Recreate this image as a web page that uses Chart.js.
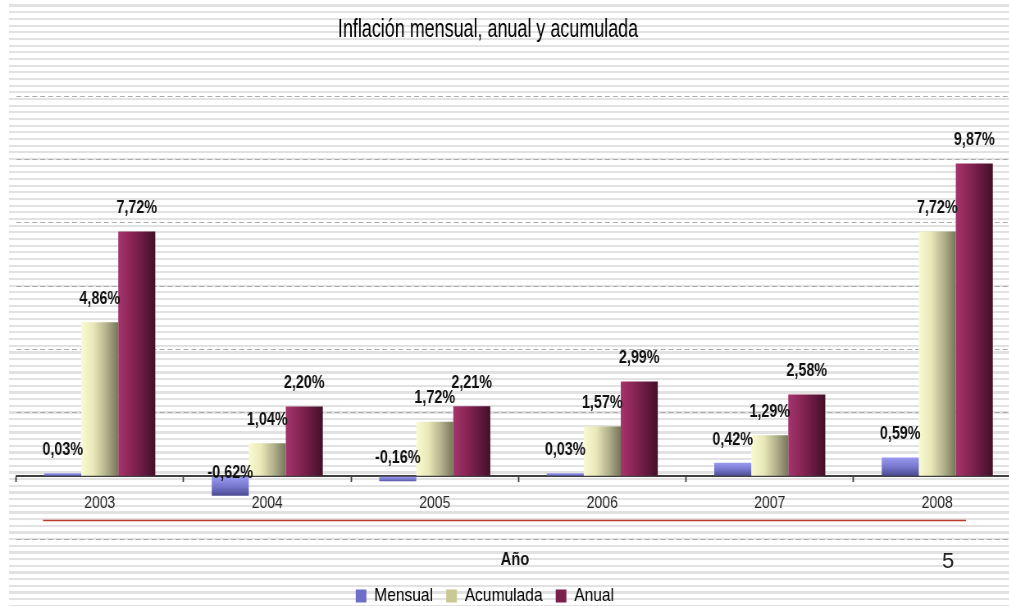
<!DOCTYPE html>
<html>
<head>
<meta charset="utf-8">
<title>Inflación mensual, anual y acumulada</title>
<script src="https://cdn.jsdelivr.net/npm/chart.js@4.4.1/dist/chart.umd.min.js"></script>
<style>
  html, body { margin: 0; padding: 0; width: 1009px; height: 606px; overflow: hidden; background: #fff; }
  /* striped slide background */
  #slide {
    position: absolute; left: 9px; top: 0; width: 1000px; height: 606px;
    background: repeating-linear-gradient(to bottom, #fff 0, #fff 4.5px, #e2e2e2 4.5px, #e2e2e2 6.67px);
  }
  /* the slide squeezes the chart sideways, which gives the narrow lettering */
  #chartBox { position: absolute; left: 0; top: 0; width: 1260px; height: 606px;
    transform: scaleX(0.82); transform-origin: 0 0; }
</style>
</head>
<body>
<div id="slide"></div>
<div id="chartBox"><canvas id="inflationChart" width="1260" height="606"></canvas></div>
<script>
const years = ['2003', '2004', '2005', '2006', '2007', '2008'];
const mensual = [0.03, -0.62, -0.16, 0.03, 0.42, 0.59];
const acumulada = [4.86, 1.04, 1.72, 1.57, 1.29, 7.72];
const anual = [7.72, 2.20, 2.21, 2.99, 2.58, 9.87];
const seriesNames = ['Mensual', 'Acumulada', 'Anual'];

const yMin = -2, yMax = 12, yStep = 2;

const squeeze = 0.82;   // same as the CSS scaleX
const sans = '"Liberation Sans", Arial, sans-serif';
const legendColors = ['#6e6ec8', '#c9c995', '#7a1f4c'];
const legendOffsetX = -41;
const legendOffsetY = 31;

function pct(v) {
    return v.toFixed(2).replace('.', ',') + '%';
}

// gradient across each bar, taken from the bar element itself
function shade(stops, vertical) {
    return function (c) {
        const bar = c.element;
        if (!bar || !isFinite(bar.x) || !isFinite(bar.width) || !isFinite(bar.base)) {
            return stops[1];
        }
        const ctx = c.chart.ctx;
        const g = vertical
            ? ctx.createLinearGradient(0, Math.min(bar.y, bar.base), 0, Math.max(bar.y, bar.base) + 1)
            : ctx.createLinearGradient(bar.x - bar.width / 2, 0, bar.x + bar.width / 2, 0);
        stops.forEach(function (col, i) {
            g.addColorStop(i / (stops.length - 1), col);
        });
        return g;
    };
}

// value labels above every bar
const valueLabels = {
    id: 'valueLabels',
    afterDatasetsDraw(chart) {
        const ctx = chart.ctx;
        ctx.save();
        ctx.font = 'bold 17.5px ' + sans;
        ctx.fillStyle = '#111';
        ctx.textAlign = 'center';
        ctx.textBaseline = 'middle';
        chart.data.datasets.forEach(function (ds, i) {
            chart.getDatasetMeta(i).data.forEach(function (bar, j) {
                ctx.fillText(pct(ds.data[j]), bar.x, bar.y - 23);
            });
        });
        ctx.restore();
    }
};

// title, red rule, axis caption and page number
const slideText = {
    id: 'slideText',
    afterDraw(chart) {
        const ctx = chart.ctx;
        ctx.save();

        ctx.fillStyle = '#000';
        ctx.textAlign = 'center';
        ctx.textBaseline = 'alphabetic';
        ctx.translate(488 / squeeze, 36.7);
        ctx.scale(0.855, 1);
        ctx.font = '25.6px ' + sans;
        ctx.fillText('Inflación mensual, anual y acumulada', 0, 0);
        ctx.setTransform(1, 0, 0, 1, 0, 0);

        ctx.strokeStyle = '#c0392b';
        ctx.lineWidth = 1.5;
        ctx.beginPath();
        ctx.moveTo(43 / squeeze, 520.5);
        ctx.lineTo(966 / squeeze, 520.5);
        ctx.stroke();

        ctx.fillStyle = '#111';
        ctx.textBaseline = 'middle';
        ctx.font = 'bold 18px ' + sans;
        ctx.fillText('Año', 515 / squeeze, 560);

        // page number keeps its normal width
        ctx.translate(948 / squeeze, 562);
        ctx.scale(1 / squeeze, 1);
        ctx.font = '22px ' + sans;
        ctx.fillStyle = '#222';
        ctx.fillText('5', 0, 0);
        ctx.restore();
    }
};

// move the legend under the plot
const legendNudge = {
    id: 'legendNudge',
    afterLayout(chart) {
        const lg = chart.legend;
        lg.left += legendOffsetX;
        lg.right += legendOffsetX;
        lg.top += legendOffsetY;
        lg.bottom += legendOffsetY;
    }
};

const data = {
    labels: years,
    datasets: [
        {
            label: seriesNames[0],
            data: mensual,
            minBarLength: 3,
            backgroundColor: shade(['#9a9af2', '#7676cc', '#45458a'], true)
        },
        {
            label: seriesNames[1],
            data: acumulada,
            backgroundColor: shade(['#fbfbd3', '#e8e8b8', '#b3b38e', '#76765a'], false)
        },
        {
            label: seriesNames[2],
            data: anual,
            backgroundColor: shade(['#a5356d', '#8b2757', '#681a42', '#421027'], false)
        }
    ]
};

const config = {
    type: 'bar',
    data: data,
    options: {
        responsive: false,
        animation: false,
        events: [],
        layout: { padding: { left: 16 / squeeze, right: 1260 - 1021 / squeeze, top: 96, bottom: 21.5 } },
        datasets: {
            bar: { categoryPercentage: 0.663, barPercentage: 1.0, borderWidth: 0 }
        },
        scales: {
            x: {
                position: { y: 0 },
                offset: true,
                grid: {
                    display: true, offset: true, drawOnChartArea: false,
                    drawTicks: true, tickLength: 5, tickColor: '#404040', tickWidth: 1.8
                },
                border: { display: true, color: '#404040', width: 2 },
                ticks: { color: '#262626', font: { family: sans, size: 17 }, padding: 12 },
                afterFit(scale) { scale.height = 0; }
            },
            y: {
                min: yMin,
                max: yMax,
                ticks: { display: false, stepSize: yStep },
                grid: { color: '#ababab', lineWidth: 1, drawTicks: false, tickLength: 0 },
                border: { display: false, dash: [6, 3.7] }
            }
        },
        plugins: {
            title: { display: false },
            tooltip: { enabled: false },
            legend: {
                position: 'bottom',
                labels: {
                    boxWidth: 13,
                    boxHeight: 13,
                    padding: 16,
                    color: '#1e1e1e',
                    font: { family: sans, size: 19 },
                    generateLabels(chart) {
                        return chart.data.datasets.map(function (ds, i) {
                            return {
                                text: ds.label,
                                fillStyle: legendColors[i],
                                strokeStyle: legendColors[i],
                                lineWidth: 0,
                                hidden: false,
                                datasetIndex: i
                            };
                        });
                    }
                }
            }
        }
    },
    plugins: [legendNudge, valueLabels, slideText]
};

const inflationChart = new Chart(document.getElementById('inflationChart'), config);
// second pass so the bar gradients pick up the laid-out bar geometry
inflationChart.update();
</script>
</body>
</html>
